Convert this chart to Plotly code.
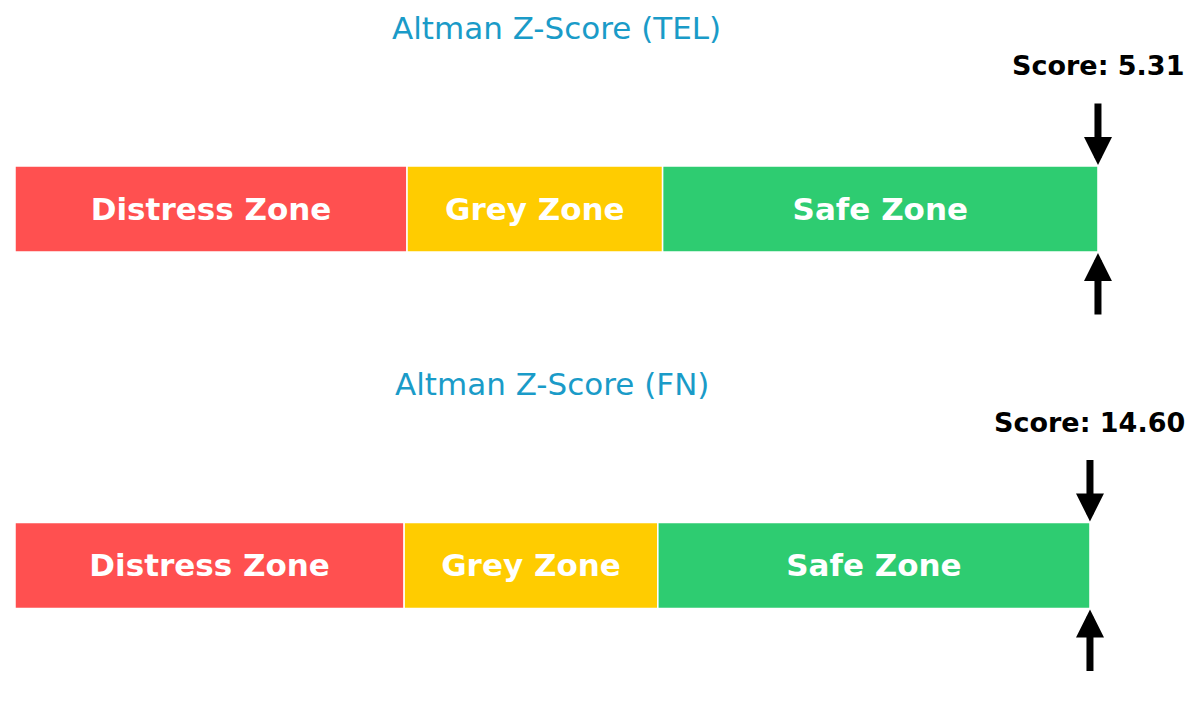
import plotly.graph_objects as go

# Altman Z-score zones
zone_names = ["Distress Zone", "Grey Zone", "Safe Zone"]
zone_start = [0, 1.81, 2.99]
zone_end = [1.81, 2.99, 5.0]
zone_colors = ["#FF5050", "#FFCC00", "#2ECC71"]

tickers = ["TEL", "FN"]
scores = [5.31, 14.60]

fig = go.Figure()

# per subplot layout (top, bottom)
y_domains = [[0.5385, 0.8993], [0.0399, 0.4007]]
x_ranges = [[-0.0323, 5.508], [-0.0326, 5.549]]

for i, (tk, sc) in enumerate(zip(tickers, scores)):
    n = "" if i == 0 else str(i + 1)
    xa, ya = "x" + n, "y" + n
    for name, s, e, c in zip(zone_names, zone_start, zone_end, zone_colors):
        fig.add_trace(go.Bar(
            x=[e - s], base=[s], y=[0], orientation="h",
            marker=dict(color=c, line=dict(color="white", width=1.5)),
            width=0.8, xaxis=xa, yaxis=ya, showlegend=False,
            text=[name], textposition="inside", insidetextanchor="middle",
            textfont=dict(family="DejaVu Sans", size=31, color="white", weight="bold"),
            hoverinfo="skip",
        ))
    pos = min(sc, zone_end[-1])
    # arrows
    fig.add_annotation(x=pos, y=0.41, xref=xa, yref=ya, ax=0, ay=-63,
                       showarrow=True, arrowhead=2, arrowsize=0.8, arrowwidth=7,
                       arrowcolor="black", text="")
    fig.add_annotation(x=pos, y=-0.41, xref=xa, yref=ya, ax=0, ay=63,
                       showarrow=True, arrowhead=2, arrowsize=0.8, arrowwidth=7,
                       arrowcolor="black", text="")
    # score label
    fig.add_annotation(x=pos, y=0.4, xref=xa, yref=ya, yshift=100, showarrow=False,
                       text="<b>Score: %.2f</b>" % sc,
                       font=dict(family="DejaVu Sans", size=27, color="black"))
    # title
    fig.add_annotation(x=2.5, y=0.4, xref=xa, yref=ya, yshift=138, showarrow=False,
                       text="Altman Z-Score (%s)" % tk,
                       font=dict(family="DejaVu Sans", size=31, color="#1A9BC8"))

    fig.layout["xaxis" + n] = dict(range=x_ranges[i], visible=False, anchor=ya, domain=[0, 1])
    fig.layout["yaxis" + n] = dict(range=[-1.2, 1.2], visible=False, anchor=xa, domain=y_domains[i])

fig.update_layout(
    width=1200, height=715,
    margin=dict(l=0, r=0, t=0, b=0),
    plot_bgcolor="white", paper_bgcolor="white",
    barmode="overlay",
    uniformtext=dict(minsize=10, mode="show"),
)

fig.write_html("out.html")
